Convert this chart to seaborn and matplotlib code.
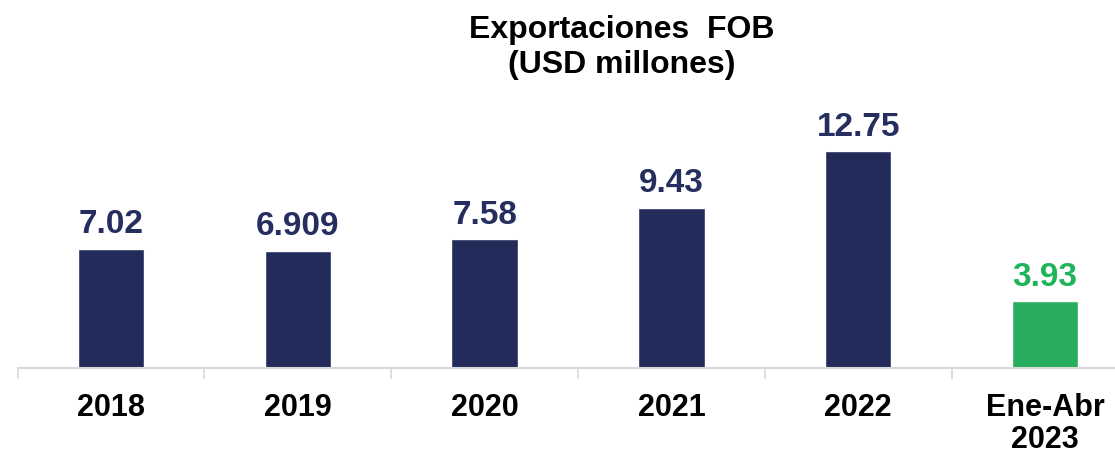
import matplotlib
matplotlib.use("Agg")
import matplotlib.pyplot as plt
import seaborn as sns
import pandas as pd

# Exportaciones FOB (USD millones)
categorias = ["2018", "2019", "2020", "2021", "2022", "Ene-Abr\n2023"]
valores = [7.02, 6.909, 7.58, 9.43, 12.75, 3.93]
etiquetas = ["7.02", "6.909", "7.58", "9.43", "12.75", "3.93"]

azul = "#222B59"
verde = "#28AE5E"
colores = [azul] * 5 + [verde]
colores_texto = ["#252E5F"] * 5 + ["#1DB45A"]

sns.set_style("white")
plt.rcParams['font.family'] = ['Liberation Sans', 'DejaVu Sans']

df = pd.DataFrame({"cat": categorias, "val": valores})

fig = plt.figure(figsize=(11.15, 4.53), dpi=100)
ax = fig.add_axes([17.6 / 1115, 85 / 453, 1120.8 / 1115, 368 / 453])

sns.barplot(data=df, x="cat", y="val", hue="cat", palette=colores,
            width=0.355, legend=False, saturation=1, ax=ax)

# valores encima de cada barra
for i, (v, txt) in enumerate(zip(valores, etiquetas)):
    ax.annotate(txt, (i, v), xytext=(0, 6), textcoords="offset points",
                ha="center", va="bottom", fontsize=24, fontweight="bold",
                color=colores_texto[i])

ax.set_ylim(0, 21.65)
ax.set_xlim(-0.5, len(categorias) - 0.5)
ax.set_xlabel("")
ax.set_ylabel("")
ax.set_yticks([])

for s in ["top", "right", "left"]:
    ax.spines[s].set_visible(False)
ax.spines["bottom"].set_color("#D9D9D9")
ax.spines["bottom"].set_linewidth(1.5)

ax.set_xticks([i - 0.5 for i in range(len(categorias) + 1)], minor=True)
ax.tick_params(axis="x", which="minor", bottom=True, length=8, width=1.2,
               color="#D9D9D9", direction="out")
ax.tick_params(axis="x", which="major", bottom=True, length=0, pad=18)
ax.set_xticks(range(len(categorias)))
ax.set_xticklabels(categorias, fontsize=22, fontweight="bold",
                   color="black", linespacing=1.08)

fig.text(622 / 1115, 1 - 30 / 453, "Exportaciones  FOB", ha="center",
         va="center", fontsize=23, fontweight="bold", color="black")
fig.text(622 / 1115, 1 - 65 / 453, "(USD millones)", ha="center",
         va="center", fontsize=23, fontweight="bold", color="black")

plt.savefig("out.png", dpi=100)
